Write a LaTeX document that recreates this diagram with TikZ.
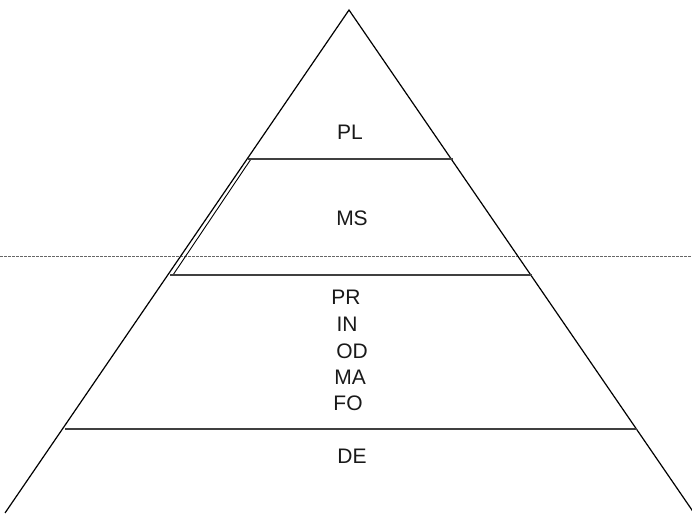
\documentclass[tikz,border=0pt]{standalone}
\usepackage{fontspec}
\setmainfont{Liberation Sans}
\begin{document}
\begin{tikzpicture}[x=1pt,y=1pt,
  edge/.style={black,line width=1.2pt},
  level/.style={black!75,line width=1.1pt},
  guide/.style={black!60,line width=0.9pt,dash pattern=on 3pt off 1pt},
  lab/.style={font=\fontsize{21}{24}\selectfont,text=black!90,inner sep=0pt}]
\useasboundingbox (0,0) rectangle (692,513);
\coordinate (apex) at (349,503);
\coordinate (bl) at (5,0);
\coordinate (br) at (694,0);
\coordinate (g1) at (0,257);
\coordinate (g2) at (692,257);
\coordinate (l1a) at (248,354);
\coordinate (l1b) at (453,354);
\coordinate (l2a) at (170,238);
\coordinate (l2b) at (532,238);
\coordinate (l3a) at (65,84);
\coordinate (l3b) at (637,84);
\coordinate (d1) at (251,354);
\coordinate (d2) at (173,238);
\draw[guide] (g1) -- (g2);
\draw[edge] (bl) -- (apex) -- (br);
\draw[edge,line width=0.9pt] (d1) -- (d2);
\draw[level] (l1a) -- (l1b);
\draw[level] (l2a) -- (l2b);
\draw[level] (l3a) -- (l3b);
\node[lab] (pl) at (350,381) {PL};
\node[lab] (ms) at (352,295) {MS};
\node[lab] (pr) at (346,216) {PR};
\node[lab] (in) at (347,189) {IN};
\node[lab] (od) at (352,162) {OD};
\node[lab] (ma) at (350,136) {MA};
\node[lab] (fo) at (348,110) {FO};
\node[lab] (de) at (352,57) {DE};
\end{tikzpicture}
\end{document}
